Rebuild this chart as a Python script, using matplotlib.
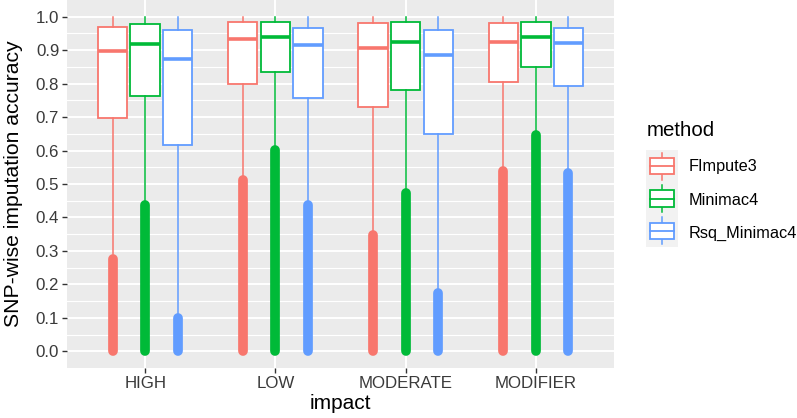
import matplotlib
matplotlib.use("Agg")
import matplotlib.pyplot as plt
from matplotlib.patches import Rectangle
import numpy as np

plt.rcParams['font.family'] = ['Liberation Sans', 'DejaVu Sans']

impact = ["HIGH", "LOW", "MODERATE", "MODIFIER"]
methods = ["FImpute3", "Minimac4", "Rsq_Minimac4"]
colors = ["#F8766D", "#00BA38", "#619CFF"]

# box stats, one list per method (HIGH, LOW, MODERATE, MODIFIER)
q1 = [[0.697, 0.798, 0.731, 0.806],
      [0.764, 0.835, 0.781, 0.849],
      [0.617, 0.758, 0.648, 0.794]]
median = [[0.898, 0.933, 0.908, 0.924],
          [0.918, 0.938, 0.924, 0.938],
          [0.875, 0.916, 0.886, 0.921]]
q3 = [[0.970, 0.985, 0.981, 0.981],
      [0.979, 0.985, 0.983, 0.983],
      [0.959, 0.967, 0.961, 0.965]]
whisker_hi = [[1.0, 1.0, 1.0, 1.0],
              [1.0, 1.0, 1.0, 1.0],
              [1.0, 1.0, 1.0, 1.0]]
whisker_lo = [[0.29, 0.52, 0.36, 0.55],
              [0.45, 0.61, 0.48, 0.655],
              [0.11, 0.445, 0.18, 0.54]]
# outliers fill a solid column from the bottom to the top value
outlier_lo = [[0.0, 0.0, 0.0, 0.0],
              [0.0, 0.0, 0.0, 0.0],
              [0.0, 0.0, 0.0, 0.0]]
outlier_hi = [[0.277, 0.512, 0.349, 0.540],
              [0.437, 0.602, 0.472, 0.647],
              [0.098, 0.437, 0.173, 0.532]]

fig = plt.figure(figsize=(7.97, 4.18), dpi=100)
ax = fig.add_axes([67 / 797, 1 - 368 / 418, (614 - 67) / 797, 368 / 418])
ax.set_facecolor("#EBEBEB")

ax.set_ylim(-0.05, 1.05)
ax.set_xlim(0.4, 4.6)
ax.set_yticks(np.arange(0, 1.01, 0.1))
ax.set_yticks(np.arange(0.05, 1.0, 0.1), minor=True)
ax.set_xticks(np.arange(1, 5))
ax.set_xticklabels(impact)
ax.set_yticklabels(["%.1f" % v for v in np.arange(0, 1.01, 0.1)])
ax.grid(True, which="major", color="white", linewidth=1.4)
ax.grid(True, which="minor", axis="y", color="white", linewidth=0.8)
ax.set_axisbelow(True)
for s in ax.spines.values():
    s.set_visible(False)
ax.tick_params(axis="both", which="major", length=3.6, width=1.0, color="#333333",
               labelsize=12.2, labelcolor="#3A3A3A", pad=2)
ax.tick_params(axis="y", which="minor", length=0)

offsets = [-0.25, 0.0, 0.25]
box_w = 0.225
for m in range(3):
    pos = np.arange(1, 5) + offsets[m]
    for i in range(4):
        ax.plot([pos[i], pos[i]], [outlier_lo[m][i], outlier_hi[m][i]], color=colors[m],
                linewidth=7, solid_capstyle="round", zorder=2)
    stats = []
    for i in range(4):
        stats.append(dict(med=median[m][i], q1=q1[m][i], q3=q3[m][i],
                          whislo=whisker_lo[m][i], whishi=whisker_hi[m][i], fliers=[]))
    ax.bxp(stats, positions=pos, widths=box_w, showcaps=False, showfliers=False,
           patch_artist=True, manage_ticks=False,
           boxprops=dict(facecolor="white", edgecolor=colors[m], linewidth=1.3),
           whiskerprops=dict(color=colors[m], linewidth=1.1),
           medianprops=dict(color=colors[m], linewidth=2.6, solid_capstyle="butt"),
           zorder=3)

ax.set_xlabel("impact", fontsize=15)
ax.set_ylabel("SNP-wise imputation accuracy", fontsize=15.2)
ax.xaxis.set_label_coords(0.5, -0.07)
ax.yaxis.set_label_coords(-0.08, 0.5)

# legend drawn by hand, ggplot style
fig.text(647 / 797, 1 - 130 / 418, "method", fontsize=14.8, va="center", ha="left")
kax = fig.add_axes([646 / 797, 1 - 247 / 418, 32 / 797, 97 / 418])
kax.set_facecolor("#F2F2F2")
kax.set_xlim(0, 1)
kax.set_ylim(0, 3)
kax.set_xticks([])
kax.set_yticks([])
for s in kax.spines.values():
    s.set_visible(False)
for m in range(3):
    yc = 2.5 - m
    kax.plot([0.5, 0.5], [yc - 0.42, yc + 0.42], color=colors[m], linewidth=1.1)
    kax.add_patch(Rectangle((0.11, yc - 0.25), 0.78, 0.5, facecolor="white",
                            edgecolor=colors[m], linewidth=1.3, zorder=3))
    kax.plot([0.11, 0.89], [yc, yc], color=colors[m], linewidth=1.3, zorder=4)
    fig.text(689 / 797, 1 - (167 + 33 * m) / 418, methods[m], fontsize=11.7,
             va="center", ha="left")

fig.savefig("out.png", dpi=100)
